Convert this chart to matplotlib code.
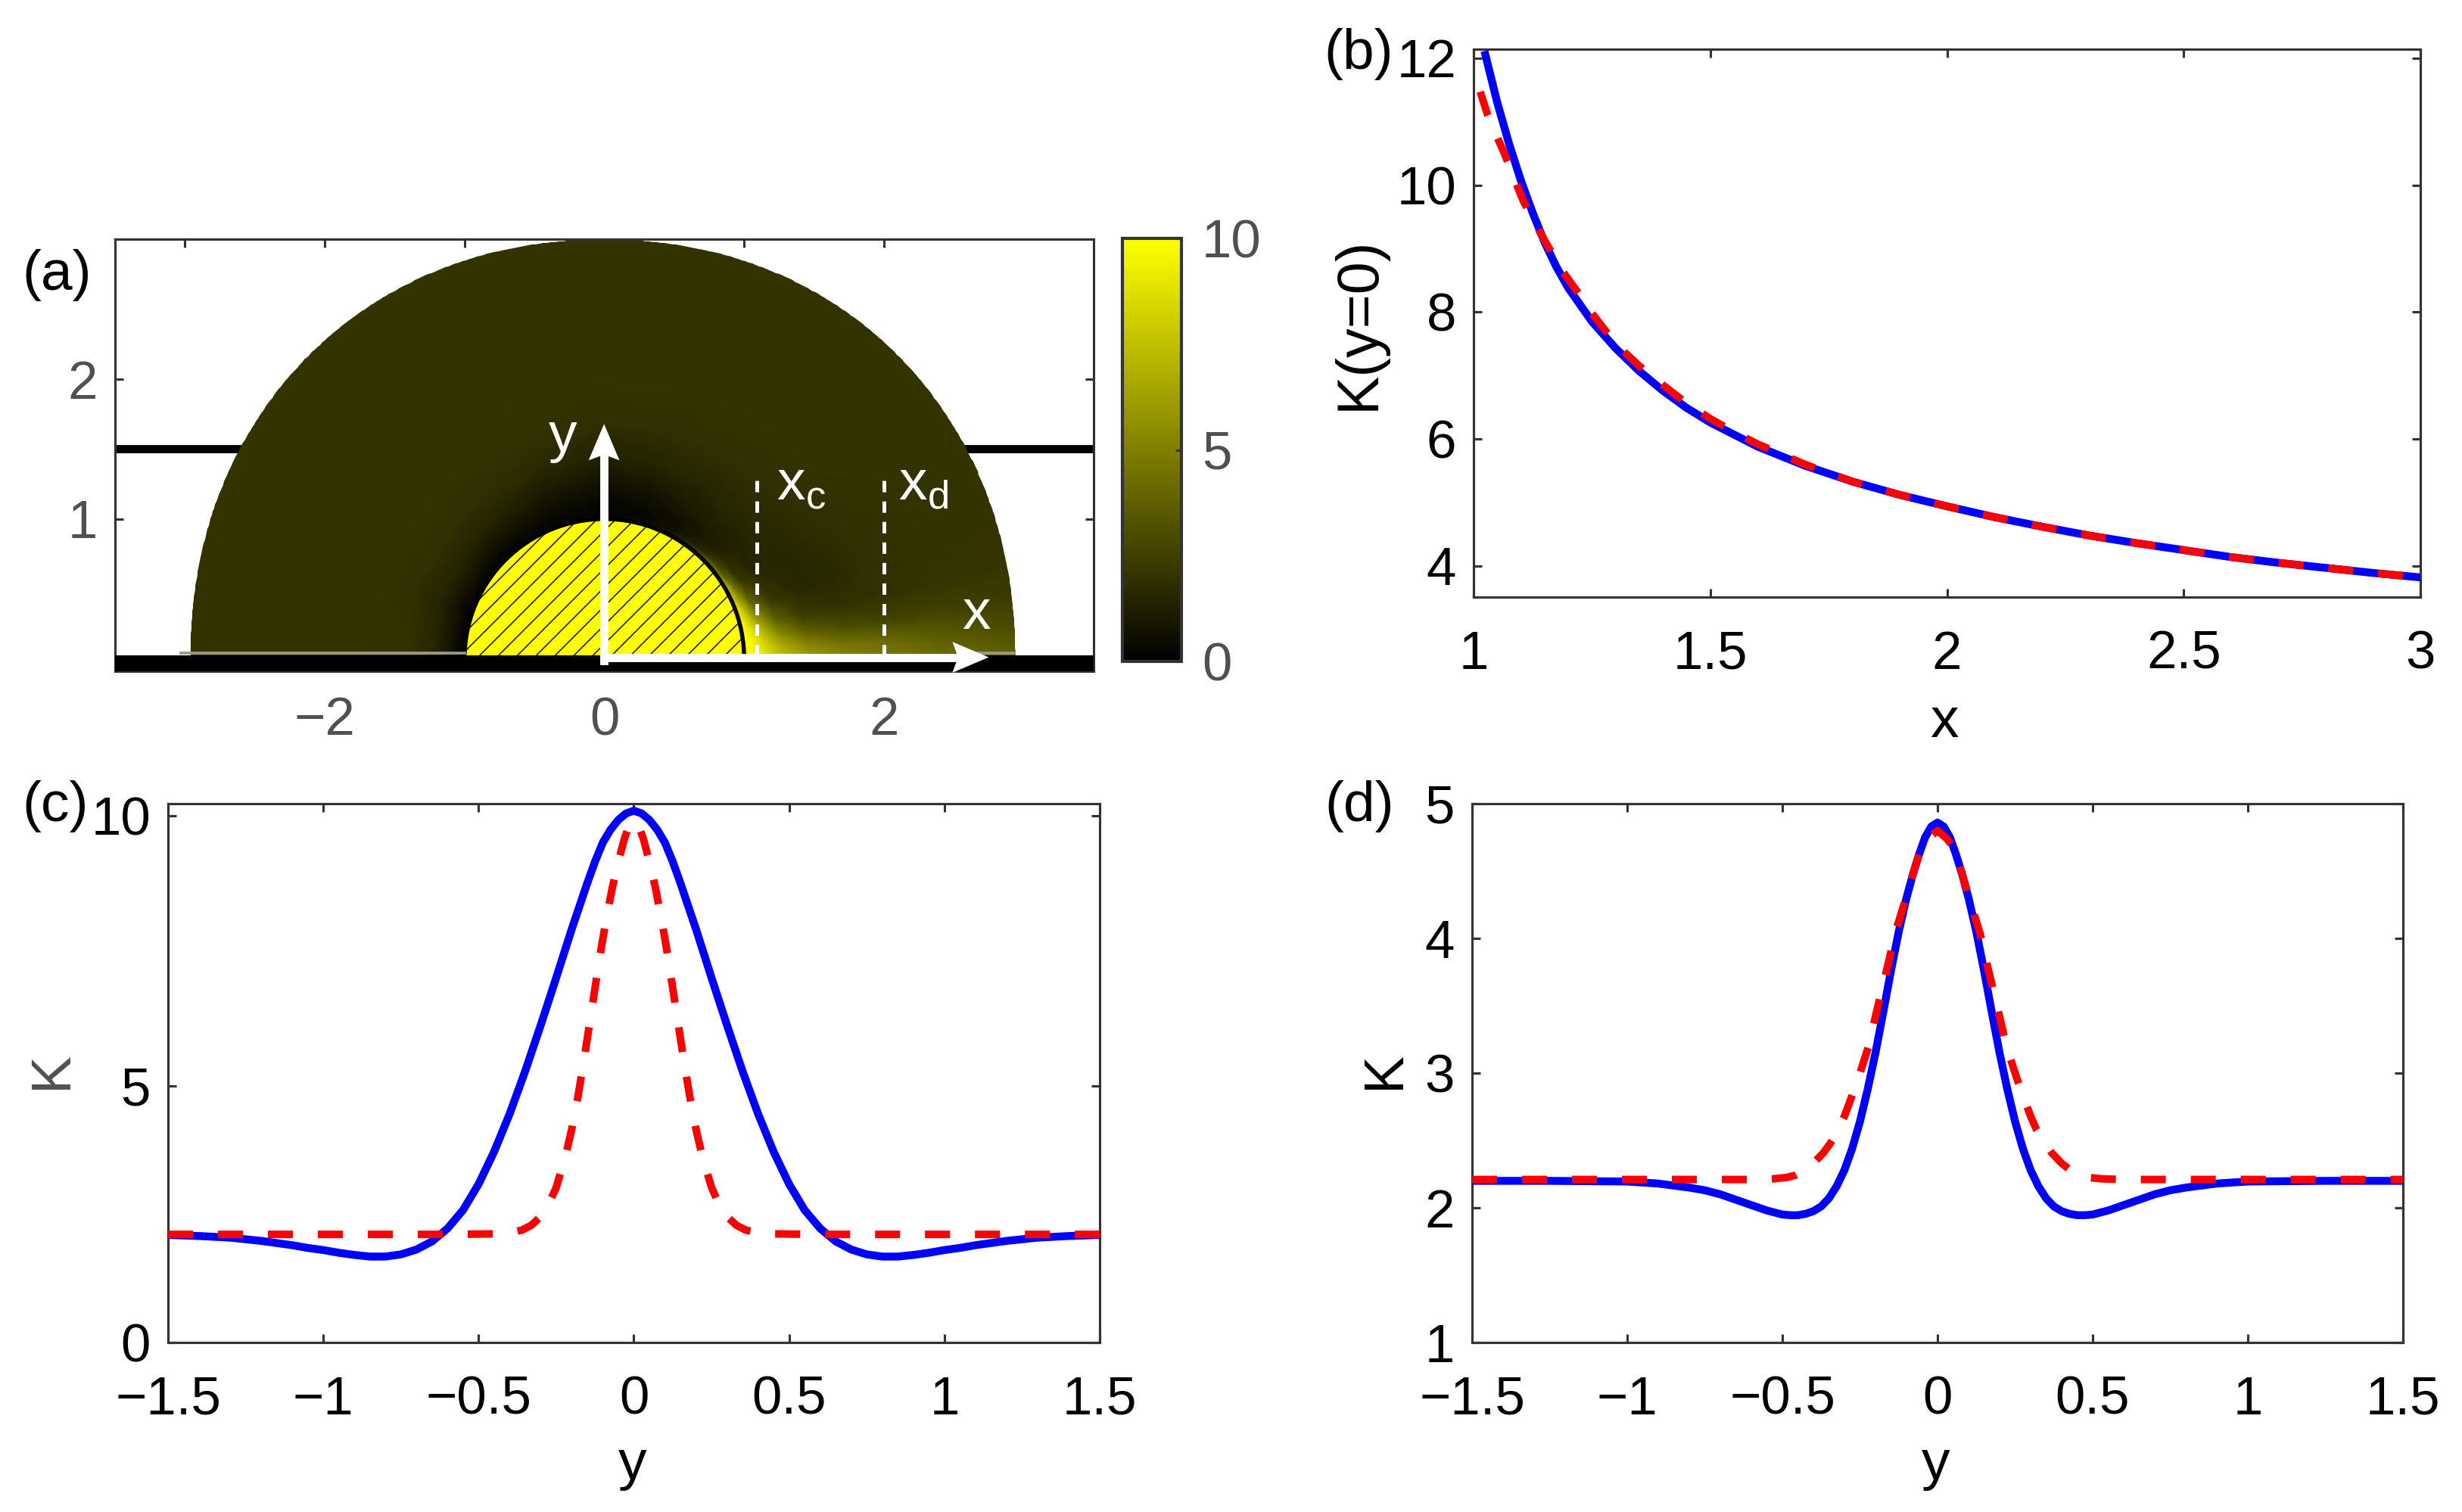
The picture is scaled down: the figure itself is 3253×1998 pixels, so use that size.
import numpy as np
import matplotlib
matplotlib.use("Agg")
import matplotlib.pyplot as plt
from matplotlib.colors import LinearSegmentedColormap
from matplotlib.patches import Wedge, Arc, Polygon

W, H = 3254, 1998
plt.rcParams['font.family'] = ['Liberation Sans', 'DejaVu Sans']
plt.rcParams['font.size'] = 17
plt.rcParams['mathtext.fontset'] = 'custom'
plt.rcParams['mathtext.rm'] = 'Liberation Sans'

# (a) K, rows = angle (deg), columns = radius
r_nodes = [1.0, 1.05, 1.12, 1.25, 1.45, 1.7, 2.0, 2.4, 3.0, 3.2]
theta_nodes = [0, 4, 8, 13, 20, 30, 45, 60, 75, 90, 110, 135, 160, 180]
K_field = [
    [11.0, 10.6, 9.4, 7.9, 6.4, 5.5, 4.85, 4.3, 3.8, 3.7],
    [10.8, 10.2, 9.0, 7.0, 5.2, 4.4, 4.1, 3.6, 3.0, 2.9],
    [10.5, 9.8, 8.3, 5.6, 3.6, 2.9, 2.6, 2.6, 2.4, 2.3],
    [10.0, 9.0, 6.8, 3.8, 2.2, 1.9, 1.95, 2.05, 2.1, 2.1],
    [9.5, 7.5, 4.2, 2.2, 1.6, 1.6, 1.9, 2.0, 2.0, 2.0],
    [8.0, 4.5, 2.2, 1.5, 1.55, 1.75, 1.95, 2.0, 2.0, 2.0],
    [4.0, 1.8, 1.2, 1.3, 1.65, 1.85, 2.0, 2.0, 2.0, 2.0],
    [1.2, 0.7, 0.7, 1.1, 1.6, 1.9, 2.0, 2.0, 2.0, 2.0],
    [0.4, 0.3, 0.4, 0.8, 1.5, 1.9, 2.0, 2.0, 2.0, 2.0],
    [0.2, 0.2, 0.3, 0.7, 1.4, 1.9, 2.0, 2.0, 2.0, 2.0],
    [0.2, 0.3, 0.5, 1.0, 1.7, 2.0, 2.0, 2.0, 2.0, 2.0],
    [0.2, 0.3, 0.7, 1.4, 1.9, 2.0, 2.0, 2.0, 2.0, 2.0],
    [0.2, 0.3, 0.8, 1.5, 1.9, 2.0, 2.0, 2.0, 2.0, 2.0],
    [0.2, 0.3, 0.9, 1.6, 2.0, 2.0, 2.0, 2.0, 2.0, 2.0],
]

# (b)
b_x_blue = [1.025, 1.05, 1.075, 1.1, 1.125, 1.15, 1.175, 1.2, 1.25, 1.3, 1.35, 1.4, 1.45, 1.5, 1.6, 1.7, 1.8, 1.9,
            2.0, 2.1, 2.2, 2.3, 2.4, 2.5, 2.6, 2.7, 2.8, 2.9, 3.0]
b_k_blue = [12.05, 11.3, 10.65, 10.07, 9.56, 9.1, 8.71, 8.38, 7.85, 7.43, 7.07, 6.76, 6.49, 6.26, 5.88, 5.58, 5.33,
            5.12, 4.94, 4.77, 4.62, 4.48, 4.36, 4.25, 4.14, 4.05, 3.97, 3.89, 3.82]
b_x_red = [1.014, 1.03, 1.05, 1.065, 1.085, 1.105, 1.13, 1.152, 1.19, 1.223, 1.25, 1.3, 1.35, 1.4, 1.45, 1.5, 1.55,
           1.6, 1.7, 1.8, 1.9, 2.0, 2.1, 2.2, 2.3, 2.4, 2.5, 2.6, 2.7, 2.8, 2.9, 3.0]
b_k_red = [11.47, 11.1, 10.75, 10.5, 10.12, 9.75, 9.4, 9.1, 8.62, 8.28, 7.98, 7.5, 7.15, 6.85, 6.56, 6.32, 6.11,
           5.92, 5.6, 5.33, 5.12, 4.94, 4.77, 4.62, 4.48, 4.36, 4.25, 4.14, 4.05, 3.97, 3.89, 3.82]

# (c) right half, the curves are symmetric in y
c_y_blue = [0, 0.025, 0.05, 0.075, 0.1, 0.125, 0.15, 0.2, 0.25, 0.3, 0.35, 0.4, 0.45, 0.5, 0.55, 0.6, 0.65, 0.7,
            0.75, 0.8, 0.85, 0.9, 0.95, 1.0, 1.05, 1.1, 1.15, 1.2, 1.3, 1.4, 1.5]
c_k_blue = [10.09, 10.04, 9.92, 9.74, 9.5, 9.15, 8.75, 7.9, 7.0, 6.12, 5.27, 4.48, 3.78, 3.18, 2.7, 2.36, 2.12, 1.97,
            1.88, 1.84, 1.84, 1.87, 1.91, 1.96, 2.0, 2.05, 2.09, 2.13, 2.19, 2.22, 2.24]
c_y_red = [0, 0.015, 0.03, 0.05, 0.07, 0.09, 0.105, 0.12, 0.14, 0.16, 0.18, 0.2, 0.22, 0.25, 0.275, 0.3, 0.33,
           0.36, 0.4, 0.45, 0.6, 1.5]
c_k_red = [9.89, 9.82, 9.58, 9.15, 8.65, 8.05, 7.55, 7.0, 6.25, 5.5, 4.8, 4.2, 3.7, 3.12, 2.8, 2.58, 2.42,
           2.33, 2.28, 2.26, 2.25, 2.25]

# (d) right half
d_y_blue = [0, 0.02, 0.04, 0.06, 0.08, 0.1, 0.125, 0.15, 0.175, 0.2, 0.225, 0.25, 0.275, 0.3, 0.325, 0.35, 0.375,
            0.4, 0.425, 0.45, 0.475, 0.5, 0.55, 0.6, 0.65, 0.7, 0.75, 0.8, 0.9, 1.0, 1.25, 1.5]
d_k_blue = [4.86, 4.83, 4.75, 4.62, 4.47, 4.3, 4.05, 3.76, 3.45, 3.15, 2.88, 2.64, 2.44, 2.28, 2.16, 2.07, 2.01,
            1.975, 1.955, 1.945, 1.945, 1.95, 1.98, 2.02, 2.06, 2.1, 2.13, 2.15, 2.18, 2.195, 2.2, 2.2]
d_y_red = [0, 0.03, 0.053, 0.07, 0.089, 0.115, 0.138, 0.155, 0.174, 0.2, 0.222, 0.25, 0.271, 0.3, 0.319, 0.345,
           0.367, 0.4, 0.428, 0.46, 0.488, 0.53, 0.6, 1.5]
d_k_red = [4.8, 4.74, 4.67, 4.55, 4.4, 4.2, 4.03, 3.85, 3.67, 3.42, 3.2, 3.0, 2.86, 2.68, 2.58, 2.48,
           2.41, 2.33, 2.28, 2.24, 2.225, 2.215, 2.21, 2.21]

x_c, x_d = 1.09, 2.0
hatch_x = -0.78 + 0.135 * np.arange(-16, 14)

BLUE, RED = '#0000ff', '#ff0000'
EDGE = '#333333'
GREY = '#505050'

fig = plt.figure(figsize=(W / 300, H / 300), dpi=300, facecolor='white')


def px_axes(left, top, right, bottom):
    return fig.add_axes([left / W, 1 - bottom / H, (right - left) / W, (bottom - top) / H])


def px_text(x, y, s, **kw):
    fig.text(x / W, 1 - y / H, s, **kw)


def style(ax, pad=10.5):
    for sp in ax.spines.values():
        sp.set_color(EDGE)
        sp.set_linewidth(0.75)
    ax.tick_params(direction='in', top=True, right=True, length=2.6, width=0.75, color=EDGE, labelsize=17)
    ax.tick_params(axis='x', pad=pad)
    ax.tick_params(axis='y', pad=5.5)


def sym(a, v):
    a, v = np.array(a), np.array(v)
    return np.r_[-a[:0:-1], a], np.r_[v[:0:-1], v]


def curves(ax, xb, kb, xr, kr):
    ax.plot(xb, kb, color=BLUE, lw=2.5, solid_joinstyle='round', zorder=3)
    ax.plot(xr, kr, color=RED, lw=2.4, dashes=(3.3, 3.3), zorder=4)


def white_arrow(ax, x0, y0, x1, y1):
    # shaft plus a stealth head with a notched back
    ux, uy = (x1 - x0), (y1 - y0)
    n = np.hypot(ux, uy)
    ux, uy = ux / n, uy / n
    ax.plot([x0, x1 - 0.2 * ux], [y0, y1 - 0.2 * uy], color='white', lw=2.6, solid_capstyle='projecting',
            zorder=6, clip_on=False)
    hl, hw, nb = 0.26, 0.11, 0.22
    ax.fill([x1, x1 - hl * ux - hw * uy, x1 - nb * ux, x1 - hl * ux + hw * uy],
            [y1, y1 - hl * uy + hw * ux, y1 - nb * uy, y1 - hl * uy - hw * ux],
            color='white', lw=0, zorder=6, clip_on=False)


# panel (a)
ax = px_axes(152, 316.5, 1445, 887)
ax.set_xlim(-3.5, 3.5)
ax.set_ylim(-0.09, 3.0)
style(ax, pad=8)
ax.axhline(1.5, color='black', lw=2.6, zorder=1)
ax.axhspan(-0.09, 0.024, color='black', lw=0, zorder=3)

cmap = LinearSegmentedColormap.from_list('ky', ['#000000', '#ffff00'])
th = np.deg2rad(theta_nodes)
R, T = np.meshgrid(r_nodes, th)
mesh = ax.pcolormesh(R * np.cos(T), R * np.sin(T), np.array(K_field), shading='gouraud',
                     cmap=cmap, vmin=0, vmax=10, zorder=2)
# outer outline: slightly narrower than a circle of radius 3 near the foot
sy = 3 * np.sin(np.linspace(0, np.pi / 2, 181))
sx = (1 - (sy / 3) ** 2.1) ** (1 / 2.1)
clip = Polygon(np.c_[np.r_[2.94 * sx, -2.96 * sx[::-1]], np.r_[sy, sy[::-1]]], closed=True, transform=ax.transData)
mesh.set_clip_path(clip)

disk = Wedge((0, 0), 1, 0, 180, facecolor='#ffff00', edgecolor='none', zorder=2.2)
ax.add_patch(disk)
yy = np.array([0, 1.05])
for x0 in hatch_x:
    ln, = ax.plot(x0 + yy, yy, color='#222222', lw=0.4, zorder=2.3)
    ln.set_clip_path(disk)
ax.add_patch(Arc((0, 0), 2, 2, theta1=0, theta2=180, color='black', lw=1.3, zorder=2.4))

ax.plot([-3.03, -1.0], [0.04, 0.04], color='#9a9a8c', lw=0.9, zorder=2.5)
ax.plot([2.67, 2.93], [0.04, 0.04], color='#9a9a8c', lw=0.9, zorder=2.5)

for xv in (x_c, x_d):
    ax.plot([xv, xv], [1.276, 0.02], color='white', lw=1.2, dashes=(3, 2.42), zorder=5)

white_arrow(ax, -0.002, -0.015, -0.002, 1.68)
white_arrow(ax, -0.002, 0.01, 2.75, 0.01)

ax.set_xticks([-3, -2, -1, 0, 1, 2])
ax.set_xticklabels(['', '\u22122', '', '0', '', '2'], color=GREY)
ax.set_yticks([1, 2])
ax.set_yticklabels(['1', '2'], color=GREY)

px_text(725, 597, 'y', color='white', fontsize=18, va='baseline', zorder=10)
px_text(1026, 660, r'x$_{\mathrm{c}}$', color='white', fontsize=18, va='baseline', zorder=10)
px_text(1187, 660, r'x$_{\mathrm{d}}$', color='white', fontsize=18, va='baseline', zorder=10)
px_text(1271, 831, 'x', color='white', fontsize=18, va='baseline', zorder=10)

cax = px_axes(1483, 315, 1561, 874)
cb = fig.colorbar(mesh, cax=cax, ticks=[0, 5, 10])
cb.outline.set_edgecolor(EDGE)
cb.outline.set_linewidth(1.0)
cax.tick_params(direction='in', length=2, width=0.75, color=EDGE, labelsize=17, labelcolor=GREY, pad=6.5)

# panel (b)
ax = px_axes(1947, 65, 3198, 789)
ax.set_xlim(1, 3)
ax.set_ylim(3.51, 12.14)
style(ax)
curves(ax, b_x_blue, b_k_blue, b_x_red, b_k_red)
ax.set_xticks([1, 1.5, 2, 2.5, 3])
ax.set_xticklabels(['1', '1.5', '2', '2.5', '3'])
ax.set_yticks([4, 6, 8, 10, 12])
px_text(2569, 955, 'x', ha='center', va='center', fontsize=18)
px_text(1795, 427, 'K(y=0)', ha='center', va='center', rotation=90, fontsize=18.5)

# panel (c), lower end of the axis carries the label 0
ax = px_axes(222, 1062, 1453, 1774)
ax.set_xlim(-1.5, 1.5)
ax.set_ylim(0.25, 10.22)
style(ax)
curves(ax, *sym(c_y_blue, c_k_blue), *sym(c_y_red, c_k_red))
ax.set_xticks([-1.5, -1, -0.5, 0, 0.5, 1, 1.5])
ax.set_xticklabels(['\u22121.5', '\u22121', '\u22120.5', '0', '0.5', '1', '1.5'])
ax.set_yticks([0.25, 5, 10])
ax.set_yticklabels(['0', '5', '10'])
px_text(836, 1936, 'y', ha='center', va='center', fontsize=18)
px_text(68, 1414, 'K', ha='center', va='center', rotation=90, fontsize=18, color=GREY)

# panel (d)
ax = px_axes(1945, 1062, 3175, 1774)
ax.set_xlim(-1.5, 1.5)
ax.set_ylim(1, 5)
style(ax)
curves(ax, *sym(d_y_blue, d_k_blue), *sym(d_y_red, d_k_red))
ax.set_xticks([-1.5, -1, -0.5, 0, 0.5, 1, 1.5])
ax.set_xticklabels(['\u22121.5', '\u22121', '\u22120.5', '0', '0.5', '1', '1.5'])
ax.set_yticks([1, 2, 3, 4, 5])
px_text(2558, 1936, 'y', ha='center', va='center', fontsize=18)
px_text(1829, 1414, 'K', ha='center', va='center', rotation=90, fontsize=18)

# panel letters
px_text(29, 363, '(a)', va='center', fontsize=18)
px_text(1749, 71, '(b)', va='center', fontsize=18)
px_text(29, 1066, '(c)', va='center', fontsize=18)
px_text(1750, 1066, '(d)', va='center', fontsize=18)

fig.savefig('out.png', dpi=300)
